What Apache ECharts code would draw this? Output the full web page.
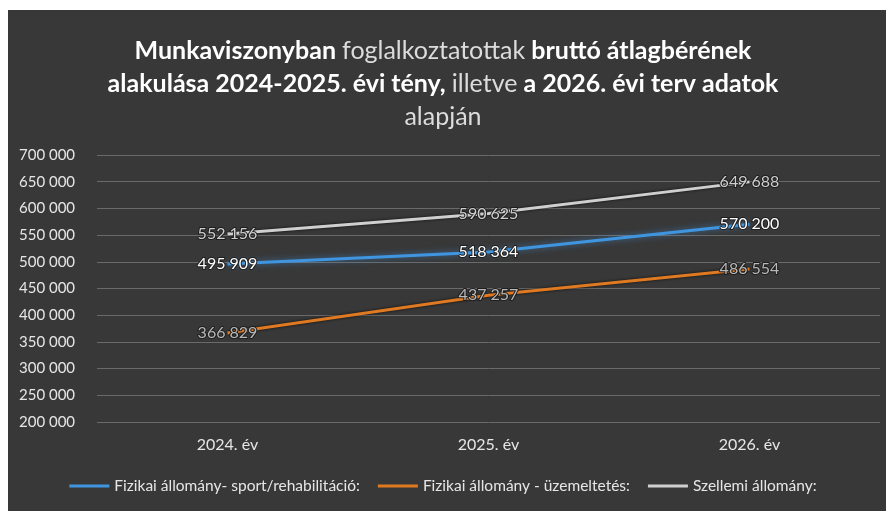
<!DOCTYPE html>
<html><head><meta charset="utf-8">
<script src="https://cdn.jsdelivr.net/npm/echarts@6/dist/echarts.min.js"></script>
<style>html,body{margin:0;padding:0;background:#fff}#c{width:886px;height:511px}</style>
</head><body><div id="c"></div>
<script>
const categories = ['2024. év', '2025. év', '2026. év'];
const seriesNames = ['Fizikai állomány- sport/rehabilitáció:', 'Fizikai állomány - üzemeltetés:', 'Szellemi állomány:'];
const sportValues = [495909, 518364, 570200];
const uzemeltetesValues = [366829, 437257, 486554];
const szellemiValues = [552156, 590625, 649688];
const yMin = 200000, yMax = 700000, yStep = 50000;

const fmt = v => String(Math.round(v)).replace(/\B(?=(\d{3})+(?!\d))/g, ' ');
const chart = echarts.init(document.getElementById('c'));
const font = 'Lato, "Open Sans", sans-serif';
const lbl = (color) => ({
  show: true, position: 'inside', formatter: p => fmt(p.value),
  color: color, fontFamily: font, fontSize: 16,
  textBorderColor: '#1e1e1e', textBorderWidth: 2
});
chart.setOption({
  backgroundColor: '#ffffff',
  graphic: [{ type: 'rect', z: -10, shape: { x: 8, y: 10, width: 878, height: 501 }, style: { fill: '#383838' } }],
  title: {
    left: 'center', top: 29,
    text: '{b|Munkaviszonyban }{n|foglalkoztatottak}{b| bruttó átlagbérének}\n{b|alakulása 2024-2025. évi tény, }{n|illetve}{b| a 2026. évi terv adatok}\n{n|alapján}',
    textStyle: {
      rich: {
        b: { fontFamily: font, fontWeight: 'bold', fontSize: 25, color: '#ffffff', lineHeight: 33 },
        n: { fontFamily: font, fontWeight: 'normal', fontSize: 25, color: '#dcdcdc', lineHeight: 33 }
      }
    }
  },
  legend: {
    bottom: 12, left: 'center', itemWidth: 40, itemHeight: 3, itemGap: 18,
    icon: 'rect',
    textStyle: { color: '#e6e6e6', fontFamily: font, fontSize: 15.5 },
    data: seriesNames
  },
  grid: { left: 97, right: 6, top: 155, bottom: 89 },
  xAxis: {
    type: 'category', data: categories, boundaryGap: true,
    axisLine: { show: false }, axisTick: { show: false },
    axisLabel: { color: '#e6e6e6', fontFamily: font, fontSize: 16, margin: 15 }
  },
  yAxis: {
    type: 'value', min: yMin, max: yMax, interval: yStep,
    axisLabel: { color: '#e6e6e6', fontFamily: font, fontSize: 15, formatter: fmt, align: 'left', margin: 78 },
    splitLine: { lineStyle: { color: '#6a6a6a', width: 1 } },
    axisLine: { show: false }, axisTick: { show: false }
  },
  series: [
    { name: seriesNames[0], type: 'line', data: sportValues, symbol: 'circle', symbolSize: 0, color: '#3f95e0',
      lineStyle: { width: 3, shadowColor: 'rgba(70,150,230,0.6)', shadowBlur: 6 }, label: lbl('#ffffff') },
    { name: seriesNames[1], type: 'line', data: uzemeltetesValues, symbol: 'circle', symbolSize: 0, color: '#e07a22',
      lineStyle: { width: 3, shadowColor: 'rgba(0,0,0,0.8)', shadowBlur: 3 }, label: lbl('#b8b8b8') },
    { name: seriesNames[2], type: 'line', data: szellemiValues, symbol: 'circle', symbolSize: 0, color: '#cfcfcf',
      lineStyle: { width: 3, shadowColor: 'rgba(0,0,0,0.8)', shadowBlur: 3 }, label: lbl('#cfcfcf') }
  ]
});
</script></body></html>
